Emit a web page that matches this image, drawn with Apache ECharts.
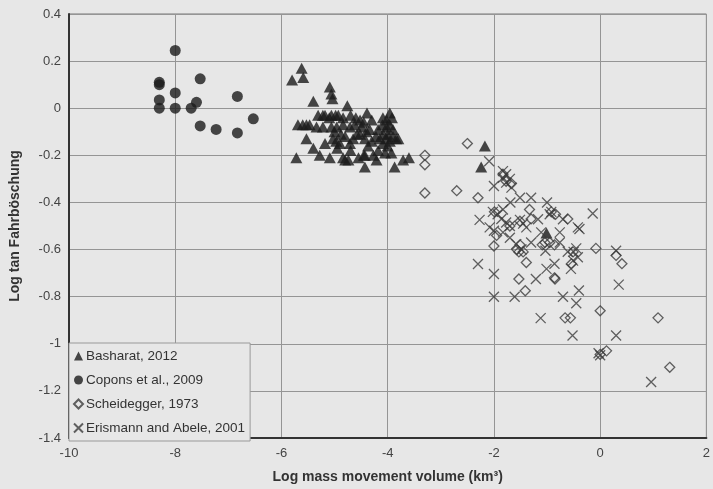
<!DOCTYPE html>
<html>
<head>
<meta charset="utf-8">
<script src="https://cdn.jsdelivr.net/npm/echarts@6/dist/echarts.min.js"></script>
<style>
html,body{margin:0;padding:0;background:#e7e7e7;}
#chart{width:713px;height:489px;}
</style>
</head>
<body>
<div id="chart"></div>
<script>
var xTicks = [-10, -8, -6, -4, -2, 0, 2];
var yTicks = [-1.4, -1.2, -1, -0.8, -0.6, -0.4, -0.2, 0, 0.2, 0.4];

var seriesNames = ['Basharat, 2012', 'Copons et al., 2009', 'Scheidegger, 1973', 'Erismann and Abele, 2001'];

var basharat = [
  [-5.80,0.12],[-5.62,0.17],[-5.59,0.13],[-5.09,0.09],[-5.06,0.06],[-5.04,0.04],[-5.40,0.03],[-4.76,0.01],
  [-5.31,-0.03],[-5.22,-0.03],[-5.18,-0.03],[-5.10,-0.04],[-5.06,-0.03],[-4.98,-0.03],[-4.93,-0.03],[-4.84,-0.04],
  [-4.70,-0.03],[-4.52,-0.05],[-4.39,-0.02],[-4.30,-0.05],[-4.09,-0.04],[-4.02,-0.05],[-3.96,-0.02],[-3.92,-0.04],
  [-4.60,-0.04],[-4.45,-0.06],
  [-5.69,-0.07],[-5.60,-0.07],[-5.53,-0.07],[-5.47,-0.07],[-5.34,-0.08],[-5.22,-0.08],[-5.06,-0.08],[-4.96,-0.08],
  [-4.84,-0.07],[-4.71,-0.08],[-4.62,-0.07],[-4.49,-0.08],[-4.40,-0.10],[-4.34,-0.09],[-4.18,-0.09],[-4.10,-0.07],
  [-4.02,-0.08],[-3.96,-0.07],[-3.90,-0.09],[-4.00,-0.11],[-5.00,-0.10],[-4.88,-0.11],
  [-5.53,-0.13],[-5.18,-0.15],[-5.03,-0.13],[-4.97,-0.14],[-4.90,-0.15],[-4.80,-0.12],[-4.71,-0.15],[-4.65,-0.13],
  [-4.58,-0.11],[-4.52,-0.11],[-4.43,-0.13],[-4.30,-0.14],[-4.22,-0.12],[-4.15,-0.13],[-4.08,-0.11],[-4.02,-0.13],
  [-3.96,-0.14],[-3.90,-0.12],[-3.84,-0.13],[-3.80,-0.13],[-4.37,-0.16],[-4.09,-0.15],[-4.00,-0.16],[-4.95,-0.17],
  [-5.40,-0.17],[-5.28,-0.20],[-5.72,-0.21],[-5.09,-0.21],[-4.84,-0.21],[-4.74,-0.22],[-4.80,-0.22],[-4.43,-0.20],
  [-4.27,-0.20],[-4.18,-0.18],[-4.43,-0.25],[-4.45,-0.20],[-4.21,-0.22],[-3.93,-0.19],[-3.87,-0.25],[-3.71,-0.22],
  [-3.60,-0.21],[-4.55,-0.21],[-4.05,-0.19],[-4.70,-0.18],
  [-2.17,-0.16],[-2.24,-0.25],[-1.01,-0.53]
];

var copons = [
  [-8.30,0.11],[-8.30,0.10],[-8.30,0.035],[-8.30,0.0],[-8.00,0.245],[-8.00,0.065],[-8.00,0.0],[-7.70,0.0],
  [-7.60,0.025],[-7.53,0.125],[-7.53,-0.075],[-7.23,-0.09],[-6.83,0.05],[-6.83,-0.105],[-6.53,-0.045]
];

var scheidegger = [
  [-2.50,-0.15],[-3.30,-0.20],[-3.30,-0.24],[-3.30,-0.36],[-2.70,-0.35],[-2.30,-0.38],[-1.83,-0.28],[-1.77,-0.31],
  [-1.67,-0.32],[-1.99,-0.44],[-1.33,-0.43],[-1.30,-0.47],[-0.92,-0.44],[-0.84,-0.45],[-0.61,-0.47],[-1.70,-0.50],
  [-1.51,-0.48],[-1.95,-0.54],[-2.00,-0.585],[-1.51,-0.58],[-1.09,-0.58],[-1.04,-0.57],[-0.95,-0.57],[-0.86,-0.58],
  [-0.08,-0.595],[-1.53,-0.61],[-1.45,-0.61],[-1.57,-0.60],[-1.39,-0.655],[-0.51,-0.61],[0.30,-0.625],[0.41,-0.66],
  [-0.54,-0.66],[-1.53,-0.725],[-0.85,-0.725],[-1.41,-0.775],[0.0,-0.86],[-0.66,-0.89],[-0.56,-0.89],[1.09,-0.89],
  [0.12,-1.03],[0.0,-1.045],[1.31,-1.10],[-0.86,-0.72]
];

var erismann = [
  [-2.09,-0.225],[-1.83,-0.267],[-1.77,-0.28],[-1.83,-0.295],[-1.70,-0.30],[-1.77,-0.316],[-1.67,-0.337],[-2.0,-0.33],
  [-1.51,-0.38],[-1.30,-0.38],[-1.69,-0.40],[-1.0,-0.40],[-0.14,-0.447],[-0.92,-0.44],[-0.95,-0.45],[-2.02,-0.44],
  [-1.83,-0.43],[-1.93,-0.45],[-2.27,-0.474],[-1.86,-0.47],[-1.77,-0.485],[-1.70,-0.50],[-1.51,-0.474],[-1.45,-0.49],
  [-1.39,-0.506],[-1.17,-0.471],[-0.70,-0.471],[-0.42,-0.506],[-0.39,-0.513],[-2.08,-0.506],[-2.0,-0.52],[-1.83,-0.527],
  [-1.70,-0.55],[-0.76,-0.527],[-1.11,-0.527],[-1.30,-0.57],[-1.58,-0.577],[-0.76,-0.57],[-0.45,-0.595],[0.30,-0.605],
  [-1.48,-0.60],[-2.30,-0.661],[-2.0,-0.704],[-2.0,-0.80],[-1.61,-0.80],[-1.21,-0.725],[-1.01,-0.682],[-0.86,-0.66],
  [-0.55,-0.682],[-0.51,-0.647],[-0.42,-0.633],[-0.50,-0.61],[-1.03,-0.605],[-0.61,-0.609],[-0.40,-0.774],[-0.70,-0.80],
  [-0.45,-0.828],[-1.12,-0.891],[-0.52,-0.965],[0.30,-0.965],[0.35,-0.749],[0.0,-1.049],[-0.03,-1.04],[0.96,-1.162]
];

var chart = echarts.init(document.getElementById('chart'), null, {renderer: 'canvas'});
var FONT = 'Liberation Sans, Arial, sans-serif';
var crossPath = 'path://M0,0L10,10M10,0L0,10';

chart.setOption({
  backgroundColor: '#e7e7e7',
  animation: false,
  textStyle: {fontFamily: FONT},
  grid: {
    left: 69, right: 6, top: 14, bottom: 48,
    show: true, borderColor: '#777', borderWidth: 1, backgroundColor: 'transparent'
  },
  legend: {
    orient: 'vertical',
    left: 69, top: 343,
    data: seriesNames,
    backgroundColor: '#e7e7e7',
    borderColor: '#999', borderWidth: 1,
    padding: [6, 5, 6, 4],
    itemWidth: 9, itemHeight: 9,
    itemGap: 10,
    textStyle: {fontSize: 13.5, color: '#333', fontFamily: FONT, lineHeight: 14, padding: [0,0,0,-2]}
  },
  xAxis: {
    type: 'value', min: -10, max: 2, interval: 2,
    name: 'Log mass movement volume (km\u00b3)',
    nameLocation: 'middle', nameGap: 32,
    nameTextStyle: {fontSize: 14, fontWeight: 'bold', color: '#333', fontFamily: FONT},
    axisLine: {show: true, onZero: false, lineStyle: {color: '#333', width: 2}},
    axisTick: {show: false},
    axisLabel: {fontSize: 13, color: '#444', margin: 9, fontFamily: FONT,
      formatter: function(v){ return xTicks.indexOf(v) >= 0 ? String(v) : ''; }},
    splitLine: {show: true, lineStyle: {color: '#959595', width: 1}}
  },
  yAxis: {
    type: 'value', min: -1.4, max: 0.4, interval: 0.2,
    name: 'Log tan Fahrb\u00f6schung',
    nameLocation: 'middle', nameGap: 47, nameRotate: 90,
    nameTextStyle: {fontSize: 14, fontWeight: 'bold', color: '#333', fontFamily: FONT},
    axisLine: {show: true, onZero: false, lineStyle: {color: '#333', width: 2}},
    axisTick: {show: false},
    axisLabel: {fontSize: 13, color: '#444', margin: 8, fontFamily: FONT,
      formatter: function(v){
        var r = Math.round(v * 10) / 10;
        for (var i = 0; i < yTicks.length; i++) { if (Math.abs(yTicks[i] - r) < 1e-6) return String(yTicks[i]); }
        return String(r);
      }},
    splitLine: {show: true, lineStyle: {color: '#959595', width: 1}}
  },
  series: [
    {
      name: seriesNames[0], type: 'scatter', data: basharat,
      symbol: 'triangle', symbolSize: [12, 11],
      itemStyle: {color: '#1c1c1c'}
    },
    {
      name: seriesNames[1], type: 'scatter', data: copons,
      symbol: 'circle', symbolSize: 11,
      itemStyle: {color: '#1c1c1c'}
    },
    {
      name: seriesNames[2], type: 'scatter', data: scheidegger,
      symbol: 'diamond', symbolSize: 10,
      itemStyle: {color: 'rgba(0,0,0,0)', borderColor: '#3c3c3c', borderWidth: 1.3}
    },
    {
      name: seriesNames[3], type: 'scatter', data: erismann,
      symbol: crossPath, symbolSize: 10,
      itemStyle: {color: 'rgba(0,0,0,0)', borderColor: '#3c3c3c', borderWidth: 1.3}
    }
  ]
});
</script>
</body>
</html>
